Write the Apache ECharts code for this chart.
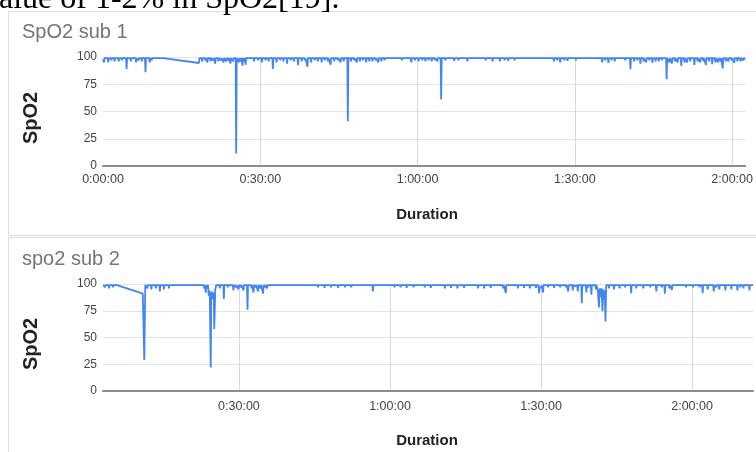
<!DOCTYPE html>
<html><head><meta charset="utf-8">
<script src="https://cdn.jsdelivr.net/npm/echarts@6/dist/echarts.min.js"></script>
<style>html,body{margin:0;padding:0;background:#fff}#c{width:756px;height:452px}</style>
</head><body><div id="c"></div>
<script>
// ---- data: [minutes since start, SpO2 %] ----
const sub1Samples = [[0,98],[0.2,95],[0.3,99],[0.9,99],[1.0,95],[1.1,99],[1.5,99],[1.6,97],[1.7,99],[2.1,99],[2.2,96],[2.3,99],[2.9,99],[3.0,96],[3.1,99],[3.5,99],[3.6,97],[3.7,99],[4.4,99],[4.5,89],[4.6,99],[5.2,99],[5.3,96],[5.4,99],[6.2,99],[6.3,95],[6.4,99],[6.7,99],[6.8,97],[6.9,99],[7.3,99],[7.4,96],[7.5,99],[8.0,99],[8.1,86],[8.2,99],[8.8,99],[8.9,95],[9.0,99],[9.2,99],[9.3,97],[9.4,99],[11.5,99],[18.3,94.5],[18.4,99],
[18.8,99],[18.9,96],[19.0,99],[19.4,99],[19.5,97],[19.6,99],[19.8,99],[19.9,95],[20.0,99],[20.4,99],[20.5,96],[20.6,99],[20.9,99],[21.0,97],[21.1,99],[21.3,99],[21.4,94],[21.5,99],[21.9,99],[22.0,96],[22.1,99],[22.4,99],[22.5,97],[22.6,99],[22.9,99],[23.0,95],[23.1,99],[23.4,99],[23.5,96],[23.6,99],[23.8,99],[23.9,97],[24.0,99],[24.2,99],[24.3,94],[24.4,99],[24.7,99],[24.8,96],[24.9,99],[25.3,99],[25.4,11.5],[25.5,99],[25.8,99],[25.9,95],[26.0,99],[26.2,99],[26.3,96],[26.4,99],[26.5,99],[26.6,92],[26.7,99],[26.8,99],[26.9,96],[27.0,99],[27.1,99],[27.2,93],[27.3,99],
[28.7,99],[28.8,96],[28.9,99],[29.5,99],[29.6,97],[29.7,99],[30.2,99],[30.3,95],[30.4,99],[30.9,99],[31.0,97],[31.1,99],[31.5,99],[31.6,96],[31.7,99],[32.3,99],[32.4,89],[32.5,99],[33.0,99],[33.1,95],[33.2,99],[33.7,99],[33.8,97],[33.9,99],[34.3,99],[34.4,96],[34.5,99],[35.0,99],[35.1,94],[35.2,99],[35.7,99],[35.8,97],[35.9,99],[36.3,99],[36.4,96],[36.5,99],[37.1,99],[37.2,92.5],[37.3,99],[37.8,99],[37.9,96],[38.0,99],[38.4,99],[38.5,97],[38.6,99],[38.9,99],[39.0,91],[39.1,99],[39.6,99],[39.7,95],[39.8,99],[40.3,99],[40.4,97],[40.5,99],[40.9,99],[41.0,96],[41.1,99],[41.6,99],[41.7,95],[41.8,99],[42.2,99],[42.3,97],[42.4,99],[42.8,99],[42.9,96],[43.0,99],[43.3,99],[43.4,93],[43.5,99],[44.0,99],[44.1,96],[44.2,99],[44.7,99],[44.8,97],[44.9,99],[45.2,99],[45.3,95],[45.4,99],[45.8,99],[45.9,96],[46.0,99],[46.6,99],[46.7,41],[46.8,99],
[47.2,99],[47.3,96],[47.4,99],[47.8,99],[47.9,97],[48.0,99],[48.3,99],[48.4,95],[48.5,99],[48.9,99],[49.0,96],[49.1,99],[49.5,99],[49.6,97],[49.7,99],[50.1,99],[50.2,95],[50.3,99],[50.7,99],[50.8,96],[50.9,99],[51.3,99],[51.4,96],[51.5,99],[51.9,99],[52.0,97],[52.1,99],[52.4,99],[52.5,95],[52.6,99],[53.0,99],[53.1,96],[53.2,99],[53.6,99],[53.7,97],[53.8,99],[55.4,99],[55.5,98],[55.6,99],[56.9,99],[57.0,97],[57.1,99],[58.7,99],[58.8,95],[58.9,99],[59.4,99],[59.5,97],[59.6,99],[60.1,99],[60.2,96],[60.3,99],[60.8,99],[60.9,97],[61.0,99],[61.4,99],[61.5,96],[61.6,99],[62.0,99],[62.1,97],[62.2,99],[62.6,99],[62.7,96],[62.8,99],[63.2,99],[63.3,97],[63.4,99],[63.7,99],[63.8,96],[63.9,99],[64.4,99],[64.5,61],[64.6,99],
[65.2,99],[65.3,97],[65.4,99],[66.1,99],[66.2,98],[66.3,99],[66.9,99],[67.0,96.5],[67.1,99],[67.7,99],[67.8,97],[67.9,99],[68.5,99],[68.6,97.5],[68.7,99],[69.4,99],[69.5,96],[69.6,99],[70.2,99],[70.3,97.5],[70.4,99],[71.4,99],[71.5,98],[71.6,99],[72.9,99],[73.0,97],[73.1,99],[74.2,99],[74.3,96],[74.4,99],[74.9,99],[75.0,97.5],[75.1,99],[75.6,99],[75.7,96],[75.8,99],[76.5,99],[76.6,97],[76.7,99],[77.2,99],[77.3,96.5],[77.4,99],[78.4,99],[78.5,97],[78.6,99],[79.4,99],[79.5,98],[79.6,99],[80.7,99],[80.8,98],[80.9,99],[82.4,99],[82.5,97.5],[82.6,99],[83.9,99],[84.0,98.5],[84.1,99],
[85.9,99],[86.0,96],[86.1,99],[86.5,99],[86.6,97],[86.7,99],[87.1,99],[87.2,95],[87.3,99],[87.9,99],[88.0,97],[88.1,99],[88.5,99],[88.6,96.5],[88.7,99],[89.3,99],[89.4,97.5],[89.5,99],[90.1,99],[90.2,97],[90.3,99],[91.4,99],[91.5,98.5],[91.6,99],[93.4,99],[93.5,98],[93.6,99],
[95.1,99],[95.2,95],[95.3,99],[95.7,99],[95.8,97],[95.9,99],[96.3,99],[96.4,94.5],[96.5,99],[96.9,99],[97.0,97],[97.1,99],[97.5,99],[97.6,96],[97.7,99],[98.3,99],[98.4,97.5],[98.5,99],[99.5,99],[99.6,97],[99.7,99],[100.5,99],[100.6,88.7],[100.7,99],[101.2,99],[101.3,96],[101.4,99],[101.8,99],[101.9,97],[102.0,99],[102.4,99],[102.5,94],[102.6,99],[103.0,99],[103.1,96],[103.2,99],[103.5,99],[103.6,95],[103.7,99],[104.1,99],[104.2,97],[104.3,99],[104.7,99],[104.8,94.5],[104.9,99],[105.3,99],[105.4,96],[105.5,99],[105.9,99],[106.0,96],[106.1,99],[106.5,99],[106.6,97],[106.7,99],[107.4,99],[107.5,79.5],[107.6,99],
[107.9,99],[108.0,95],[108.1,99],[108.4,99],[108.5,94],[108.6,99],[109.0,99],[109.1,96],[109.2,99],[109.5,99],[109.6,95],[109.7,99],[110.2,99],[110.3,91.7],[110.4,99],[110.8,99],[110.9,95],[111.0,99],[111.3,99],[111.4,95],[111.5,99],[111.9,99],[112.0,96],[112.1,99],[112.7,99],[112.8,92.7],[112.9,99],[113.3,99],[113.4,96],[113.5,99],[113.8,99],[113.9,95],[114.0,99],[114.4,99],[114.5,96],[114.6,99],[114.9,99],[115.0,92.7],[115.1,99],[115.5,99],[115.6,96],[115.7,99],[116.1,99],[116.2,93.5],[116.3,99],[116.7,99],[116.8,95],[116.9,99],[117.2,99],[117.3,95],[117.4,99],[117.7,99],[117.8,96],[117.9,99],[118.1,99],[118.2,89.6],[118.3,99],[118.7,99],[118.8,96],[118.9,99],[119.2,99],[119.3,96],[119.4,99],[119.8,99],[119.9,97],[120.0,99],[120.3,99],[120.4,94.5],[120.5,99],[120.9,99],[121.0,96],[121.1,99],[121.5,99],[121.6,96],[121.7,99],[122.0,99],[122.1,97],[122.2,99],[122.5,98]];

const sub2Samples = [[3,99],[3.3,99],[3.4,97],[3.5,99],[4.1,99],[4.2,96],[4.3,99],[4.9,99],[5.0,97],[5.1,99],[5.8,99],[10.9,91],[11.2,29],[11.4,99],
[11.7,99],[11.8,96],[11.9,99],[12.5,99],[12.6,95],[12.7,99],[13.4,99],[13.5,96],[13.6,99],[14.2,99],[14.3,93],[14.4,99],[15.0,99],[15.1,95],[15.2,99],[16.0,99],[16.1,96],[16.2,99],[18.4,99],[18.5,98.5],[18.6,99],[20.4,99],[20.5,98],[20.6,99],
[23.0,99],[23.1,96],[23.25,99],[23.4,92],[23.55,99],[23.7,96],[23.85,99],[24.0,89],[24.2,94],[24.4,22],[24.5,92],[24.6,88],[24.7,93],[24.8,86],[24.9,92],[25.0,88],[25.1,58],[25.2,57],[25.3,95],[25.5,99],
[26.1,99],[26.2,96],[26.3,99],[26.9,99],[27.0,86],[27.1,99],[27.7,99],[27.8,97],[27.9,99],[28.8,99],[28.9,94],[29.0,99],[29.3,99],[29.4,97],[29.5,99],[29.8,99],[29.9,95],[30.0,99],[30.3,99],[30.4,97],[30.5,99],[30.8,99],[30.9,94],[31.0,99],[31.6,99],[31.7,76],[31.8,99],[32.4,99],[32.5,96],[32.6,99],[32.8,99],[32.9,92],[33.0,99],[33.2,99],[33.3,97],[33.4,99],[33.7,99],[33.8,93],[33.9,99],[34.2,99],[34.3,96],[34.4,99],[34.7,99],[34.8,91],[34.9,99],[35.1,99],[35.2,97],[35.3,99],[35.5,99],[35.6,96],[35.7,99],
[36.9,99],[37.0,98.5],[37.1,99],[38.9,99],[39.0,98],[39.1,99],[40.9,99],[41.0,98],[41.1,99],[43.9,99],[44.0,98],[44.1,99],
[45.6,99],[45.7,97],[45.8,99],[46.9,99],[47.0,96.5],[47.1,99],[48.2,99],[48.3,97],[48.4,99],[49.6,99],[49.7,96.5],[49.8,99],[51.0,99],[51.1,97],[51.2,99],[52.2,99],[52.3,97],[52.4,99],[53.9,99],[54.0,98.5],[54.1,99],[55.7,99],[55.8,97.5],[55.9,99],[56.5,99],[56.6,93],[56.7,99],[57.9,99],[58.0,98.5],[58.1,99],
[60.8,99],[60.9,97],[61.0,99],[62.0,99],[62.1,97],[62.2,99],[63.2,99],[63.3,96.5],[63.4,99],[64.6,99],[64.7,97],[64.8,99],[66.8,99],[66.9,97],[67.0,99],[68.0,99],[68.1,96.5],[68.2,99],[70.2,99],[70.3,98],[70.4,99],[70.8,99],[70.9,96],[71.0,99],[72.0,99],[72.1,96.5],[72.2,99],[73.3,99],[73.4,96],[73.5,99],[74.6,99],[74.7,96.5],[74.8,99],[76.7,99],[76.8,98],[76.9,99],[77.4,99],[77.5,96],[77.6,99],[78.6,99],[78.7,96],[78.8,99],[79.9,99],[80.0,96.5],[80.1,99],[81.2,99],[81.3,98],[81.4,99],[82.4,99],[82.5,96],[82.6,99],[82.9,99],[83.0,91.5],[83.1,99],[83.9,99],[84.0,98],[84.1,99],[85.3,99],[85.4,96],[85.5,99],[86.5,99],[86.6,96.5],[86.7,99],[87.7,99],[87.8,96],[87.9,99],[88.9,99],[89.0,96.5],[89.1,99],[89.5,99],[89.6,91.5],[89.8,97],[90.0,96],[90.2,98],[90.4,92],[90.5,99],
[91.3,99],[91.4,97],[91.5,99],[92.5,99],[92.6,96.5],[92.7,99],[93.7,99],[93.8,97],[93.9,99],[94.9,99],[95.0,97],[95.1,99],[95.3,99],[95.4,93],[95.5,99],[96.2,99],[96.3,94],[96.4,99],[96.7,99],[96.8,98],[96.9,99],[97.2,99],[97.3,93],[97.4,99],[98.0,99],[98.1,82],[98.2,99],[98.9,99],[99.0,92],[99.1,99],[99.3,99],[99.4,97],[99.5,99],[99.9,99],[100.0,90],[100.1,99],[100.8,99],[100.9,95],[101.0,99],[101.2,99],[101.3,93],[101.5,78],[101.65,96],[101.8,88],[102.0,96],[102.2,74.5],[102.35,95],[102.5,85],[102.65,94],[102.8,65],[102.95,99],
[103.4,99],[103.5,96],[103.6,99],[104.4,99],[104.5,95],[104.6,99],[105.5,99],[105.6,96],[105.7,99],[106.6,99],[106.7,97],[106.8,99],[107.8,99],[107.9,91.5],[108.0,99],[108.8,99],[108.9,96],[109.0,99],[110.2,99],[110.3,96],[110.4,99],[111.6,99],[111.7,97],[111.8,99],[112.8,99],[112.9,93],[113.0,99],[113.9,99],[114.0,97],[114.1,99],[114.5,99],[114.6,91],[114.7,99],[115.4,99],[115.5,96],[115.6,99],[115.9,99],[116.0,94.5],[116.1,99],[117.1,99],[117.2,97.5],[117.3,99],[118.7,99],[118.8,97],[118.9,99],[120.1,99],[120.2,97],[120.3,99],[121.4,99],[121.5,97],[121.6,99],[122.0,99],[122.1,91.5],[122.2,99],
[123.0,99],[123.1,95],[123.2,99],[124.2,99],[124.3,93],[124.4,99],[124.7,99],[124.8,97],[124.9,99],[125.3,99],[125.4,95],[125.5,99],[126.5,99],[126.6,94],[126.7,99],[127.7,99],[127.8,95],[127.9,99],[128.9,99],[129.0,94],[129.1,99],[129.5,99],[129.6,97],[129.7,99],[130.1,99],[130.2,96],[130.3,99],[131.3,99],[131.4,94],[131.5,99],[132.1,99]];

const yTickValues = [0, 25, 50, 75, 100];
const sub1LabelMinutes = [0, 30, 60, 90, 120];
const sub1GridMinutes = [30, 60, 90, 120];
const sub2LabelMinutes = [30, 60, 90, 120];
const panelTitles = ['SpO2 sub 1', 'spo2 sub 2'];
const xAxisTitle = 'Duration';
const yAxisTitle = 'SpO2';
const headerText = 'alue of 1-2% in SpO2[19].';

function pad(n){ return (n < 10 ? '0' : '') + n; }
function fmt(m){
  const s = Math.round(m * 60);
  const h = Math.floor(s / 3600), mm = Math.floor((s % 3600) / 60), ss = s % 60;
  return h + ':' + pad(mm) + ':' + pad(ss);
}

const blue = '#4285f4';
const lblColor = '#444';
const font = 'Arial, "Liberation Sans", sans-serif';

function xAxisCfg(idx, min, max, labels, grids){
  return {
    gridIndex: idx, type: 'value', min: min, max: max,
    axisLine: { show: true, onZero: false, lineStyle: { color: '#8c8c8c', width: 2 } },
    axisTick: { show: false, customValues: grids },
    axisLabel: { customValues: labels, formatter: fmt, color: lblColor, fontSize: 12.5, fontFamily: font, margin: idx === 0 ? 7 : 9 },
    splitLine: { show: true, lineStyle: { color: '#d9d9d9', width: 1 } }
  };
}
function yAxisCfg(idx){
  return {
    gridIndex: idx, type: 'value', min: yTickValues[0], max: yTickValues[yTickValues.length - 1], interval: yTickValues[1] - yTickValues[0],
    axisLine: { show: false }, axisTick: { show: false },
    axisLabel: { color: lblColor, fontSize: 12, fontFamily: font, margin: 6 },
    splitLine: { show: true, lineStyle: { color: '#e3e3e3', width: 1 } }
  };
}

const chart = echarts.init(document.getElementById('c'), null, { renderer: 'canvas' });
chart.setOption({
  animation: false,
  backgroundColor: '#fff',
  grid: [
    { left: 103, top: 57, width: 650, height: 109 },
    { left: 103, top: 284, width: 650, height: 107 }
  ],
  xAxis: [
    xAxisCfg(0, sub1LabelMinutes[0], 122.5, sub1LabelMinutes, sub1GridMinutes),
    xAxisCfg(1, 3, 132.1, sub2LabelMinutes, sub2LabelMinutes)
  ],
  yAxis: [ yAxisCfg(0), yAxisCfg(1) ],
  series: [
    { type: 'line', xAxisIndex: 0, yAxisIndex: 0, data: sub1Samples, showSymbol: false, sampling: null,
      lineStyle: { color: blue, width: 1.8 }, itemStyle: { color: blue } },
    { type: 'line', xAxisIndex: 1, yAxisIndex: 1, data: sub2Samples, showSymbol: false, sampling: null,
      lineStyle: { color: blue, width: 1.8 }, itemStyle: { color: blue } }
  ],
  graphic: [
    { type: 'text', left: -1, top: -16, style: { text: headerText, font: '32px "Liberation Serif", "Times New Roman", serif', fill: '#000' } },
    { type: 'rect', shape: { x: 8.5, y: 11.5, width: 760, height: 224 }, style: { fill: 'none', stroke: '#dcdcdc', lineWidth: 1 }, z: -1 },
    { type: 'rect', shape: { x: 8.5, y: 237.5, width: 760, height: 230 }, style: { fill: 'none', stroke: '#dcdcdc', lineWidth: 1 }, z: -1 },
    { type: 'text', x: 22, y: 32, style: { text: panelTitles[0], font: '20px ' + font, fill: '#757575', verticalAlign: 'middle' } },
    { type: 'text', x: 22, y: 259, style: { text: panelTitles[1], font: '20px ' + font, fill: '#757575', verticalAlign: 'middle' } },
    { type: 'text', x: 31, y: 118, rotation: Math.PI / 2, style: { text: yAxisTitle, font: 'bold 20px ' + font, fill: '#222', align: 'center', verticalAlign: 'middle' } },
    { type: 'text', x: 31, y: 344, rotation: Math.PI / 2, style: { text: yAxisTitle, font: 'bold 20px ' + font, fill: '#222', align: 'center', verticalAlign: 'middle' } },
    { type: 'text', x: 427, y: 215, style: { text: xAxisTitle, font: 'bold 15px ' + font, fill: '#222', align: 'center', verticalAlign: 'middle' } },
    { type: 'text', x: 427, y: 441, style: { text: xAxisTitle, font: 'bold 15px ' + font, fill: '#222', align: 'center', verticalAlign: 'middle' } }
  ]
});
</script></body></html>
